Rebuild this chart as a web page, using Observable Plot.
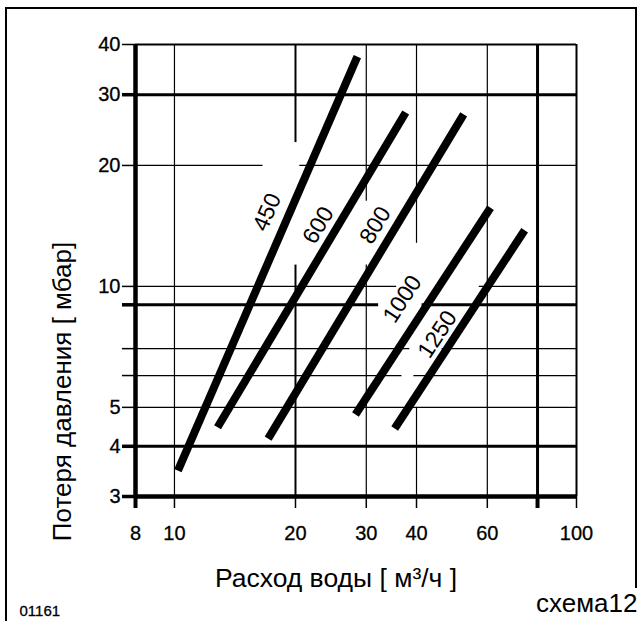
<!DOCTYPE html>
<html><head><meta charset="utf-8">
<script src="https://cdn.jsdelivr.net/npm/d3@7"></script>
<script src="https://cdn.jsdelivr.net/npm/@observablehq/plot@0.6"></script>
<style>body{margin:0;background:#fff} svg{display:block}</style>
</head><body><div id="chart"></div>
<script>
// Series (sizes) and endpoints of each characteristic line
const series     = ["450", "600", "800", "1000", "1250"];
const flowStart  = [10.2, 12.8, 17.1, 28.2, 35.3];   // м³/ч
const lossStart  = [3.48, 4.46, 4.18, 4.8, 4.43];    // мбар
const flowEnd    = [28.5, 37.6, 52.4, 61.1, 74.3];
const lossEnd    = [37.3, 27.1, 26.8, 15.7, 13.8];
// Label anchor points for each line
const labelFlow  = [17.0, 22.8, 31.6, 36.9, 45.1];
const labelLoss  = [15.3, 14.2, 14.2, 9.3, 7.6];

// Tick labels
const xTickLabels = [8, 10, 20, 30, 40, 60, 100];
const xTickThin   = [10, 20, 30, 40, 60, 100];
const xTickThick  = [8, 80];
const yTickLabels = [40, 30, 20, 10, 5, 4, 3];
const yTickThin   = [40, 20, 10, 7, 6, 5];
const yTickThick  = [30, 9, 4, 3];

// Grid segments (in data units)
const vGridThin   = [[10, 3, 40], [30, 16.3, 40], [30, 3, 11.3], [40, 12.8, 40], [40, 3, 5.0], [60, 3, 40]];
const vGridMedium = [[20, 22.8, 40], [20, 3, 11.3], [100, 3, 40]];
const vGridThick  = [[80, 3, 40]];
const hGridThin   = [[20, 8, 16.6], [20, 20.5, 100], [10, 8, 35.7], [10, 57.3, 100],
                     [7, 8, 38.5], [7, 46.3, 100], [6, 8, 36.8], [6, 39.4, 100], [5, 8, 100]];
const hGridMedium = [[40, 8, 100]];
const hGridThick  = [[30, 8, 100], [9, 8, 32.2], [9, 41.3, 100], [4, 8, 100]];

const lines = series.map((s, i) => ({s, x1: flowStart[i], y1: lossStart[i], x2: flowEnd[i], y2: lossEnd[i]}));
const labels = series.map((s, i) => ({
  s, x: labelFlow[i], y: labelLoss[i],
  angle: -Math.atan2(Math.log10(lossEnd[i] / lossStart[i]), Math.log10(flowEnd[i] / flowStart[i])) * 180 / Math.PI
}));
const vseg = a => a.map(([x, y1, y2]) => ({x, y1, y2}));
const hseg = a => a.map(([y, x1, x2]) => ({y, x1, x2}));
const blank = () => "";
const ink = {fill: "#000", stroke: "#000", strokeWidth: 0.3};

const chart = Plot.plot({
  width: 638, height: 621,
  marginLeft: 135, marginRight: 62, marginTop: 44, marginBottom: 125,
  x: {type: "log", domain: [8, 100]},
  y: {type: "log", domain: [3, 40]},
  style: {fontFamily: "'Liberation Sans', Arial, sans-serif", background: "#fff", color: "#000"},
  marks: [
    Plot.ruleX(vseg(vGridThin), {x: "x", y1: "y1", y2: "y2", stroke: "#000", strokeWidth: 1.2}),
    Plot.ruleX(vseg(vGridMedium), {x: "x", y1: "y1", y2: "y2", stroke: "#000", strokeWidth: 2}),
    Plot.ruleX(vseg(vGridThick), {x: "x", y1: "y1", y2: "y2", stroke: "#000", strokeWidth: 3}),
    Plot.ruleY(hseg(hGridThin), {y: "y", x1: "x1", x2: "x2", stroke: "#000", strokeWidth: 1.2}),
    Plot.ruleY(hseg(hGridMedium), {y: "y", x1: "x1", x2: "x2", stroke: "#000", strokeWidth: 2}),
    Plot.ruleY(hseg(hGridThick), {y: "y", x1: "x1", x2: "x2", stroke: "#000", strokeWidth: 3}),
    Plot.ruleX([8], {y1: 3, y2: 40, stroke: "#000", strokeWidth: 4.5}),
    Plot.ruleY([3], {x1: 8, x2: 100, stroke: "#000", strokeWidth: 4.5}),
    Plot.axisX({ticks: xTickThin, tickSize: 12, strokeWidth: 1.5, tickFormat: blank}),
    Plot.axisX({ticks: xTickThick, tickSize: 12, strokeWidth: 4, tickFormat: blank}),
    Plot.text(xTickLabels, {x: d => d, frameAnchor: "bottom", dy: 37, fontSize: 20, textAnchor: "middle", lineAnchor: "middle", ...ink}),
    Plot.axisY({ticks: yTickThin, tickSize: 13, strokeWidth: 1.5, tickFormat: blank}),
    Plot.axisY({ticks: yTickThick, tickSize: 13, strokeWidth: 3.5, tickFormat: blank}),
    Plot.text(yTickLabels, {y: d => d, frameAnchor: "left", dx: -15, fontSize: 20, textAnchor: "end", lineAnchor: "middle", ...ink}),
    Plot.link(lines, {x1: "x1", y1: "y1", x2: "x2", y2: "y2", stroke: "#000", strokeWidth: 8, strokeLinecap: "butt"}),
    Plot.text(labels, {x: "x", y: "y", text: "s", rotate: "angle", fontSize: 23, textAnchor: "middle", lineAnchor: "middle", fill: "#000"}),
    Plot.text(["Расход воды [ м³/ч ]"], {frameAnchor: "bottom", dx: -20, dy: 82, fontSize: 26.5, textAnchor: "middle", lineAnchor: "middle", fill: "#000"}),
    Plot.text(["Потеря давления [ мбар]"], {frameAnchor: "left", rotate: -90, dx: -73, dy: 121, fontSize: 26, textAnchor: "middle", lineAnchor: "middle", fill: "#000"}),
    Plot.text(["01161"], {frameAnchor: "bottom-left", dx: -116, dy: 115, fontSize: 15, textAnchor: "start", lineAnchor: "middle", ...ink}),
    Plot.text(["схема12"], {frameAnchor: "bottom-right", dx: 61, dy: 107, fontSize: 26, textAnchor: "end", lineAnchor: "middle", fill: "#000"})
  ]
});

d3.select(chart).append("path")
  .attr("d", "M6,621 L6,8 L636,8 L636,588")
  .attr("fill", "none").attr("stroke", "#000").attr("stroke-width", 2);

document.getElementById("chart").appendChild(chart);
</script></body></html>
